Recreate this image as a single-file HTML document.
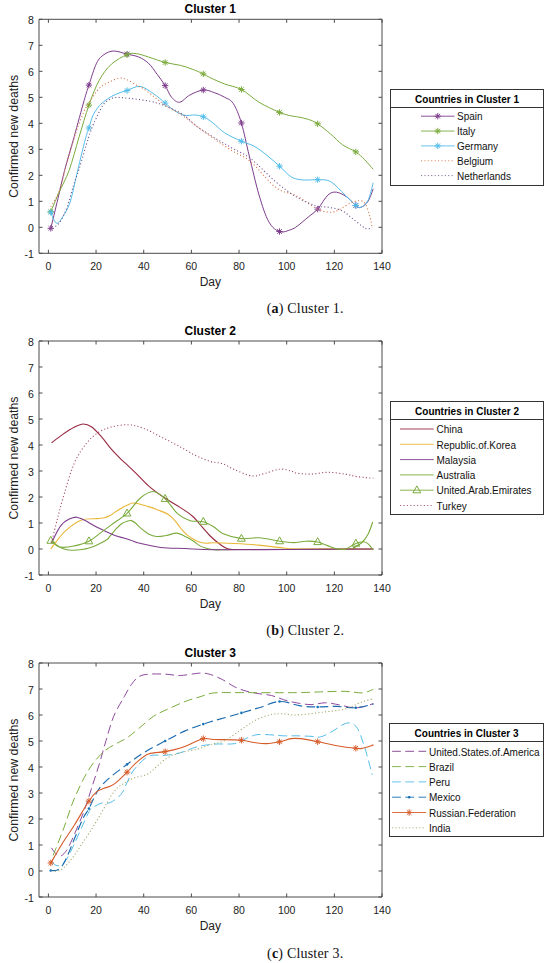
<!DOCTYPE html>
<html><head><meta charset="utf-8"><style>
html,body{margin:0;padding:0;background:#fff;}
body{width:550px;height:963px;overflow:hidden;}
svg{display:block;font-family:"Liberation Sans",sans-serif;}
.cap{font-family:"Liberation Serif",serif;}
</style></head><body>
<svg width="550" height="963" viewBox="0 0 550 963">
<rect width="550" height="963" fill="#fff"/>
<text x="210.3" y="13.0" font-size="12" font-weight="bold" text-anchor="middle" fill="#000">Cluster 1</text>
<path d="M39.0,19.3H382.0V253.3H39.0Z" fill="none" stroke="#4a4a4a" stroke-width="1"/>
<path d="M39.0,253.30h3.5M382.0,253.30h-3.5M39.0,227.30h3.5M382.0,227.30h-3.5M39.0,201.30h3.5M382.0,201.30h-3.5M39.0,175.30h3.5M382.0,175.30h-3.5M39.0,149.30h3.5M382.0,149.30h-3.5M39.0,123.30h3.5M382.0,123.30h-3.5M39.0,97.30h3.5M382.0,97.30h-3.5M39.0,71.30h3.5M382.0,71.30h-3.5M39.0,45.30h3.5M382.0,45.30h-3.5M39.0,19.30h3.5M382.0,19.30h-3.5M48.40,253.3v-3.5M48.40,19.3v3.5M96.06,253.3v-3.5M96.06,19.3v3.5M143.72,253.3v-3.5M143.72,19.3v3.5M191.38,253.3v-3.5M191.38,19.3v3.5M239.04,253.3v-3.5M239.04,19.3v3.5M286.70,253.3v-3.5M286.70,19.3v3.5M334.36,253.3v-3.5M334.36,19.3v3.5M382.02,253.3v-3.5M382.02,19.3v3.5" stroke="#4a4a4a" stroke-width="1" fill="none"/>
<text x="33.9" y="258.20" font-size="10.5" text-anchor="end" fill="#222">-1</text>
<text x="33.9" y="232.20" font-size="10.5" text-anchor="end" fill="#222">0</text>
<text x="33.9" y="206.20" font-size="10.5" text-anchor="end" fill="#222">1</text>
<text x="33.9" y="180.20" font-size="10.5" text-anchor="end" fill="#222">2</text>
<text x="33.9" y="154.20" font-size="10.5" text-anchor="end" fill="#222">3</text>
<text x="33.9" y="128.20" font-size="10.5" text-anchor="end" fill="#222">4</text>
<text x="33.9" y="102.20" font-size="10.5" text-anchor="end" fill="#222">5</text>
<text x="33.9" y="76.20" font-size="10.5" text-anchor="end" fill="#222">6</text>
<text x="33.9" y="50.20" font-size="10.5" text-anchor="end" fill="#222">7</text>
<text x="33.9" y="24.20" font-size="10.5" text-anchor="end" fill="#222">8</text>
<text x="48.40" y="270.10" font-size="10.5" text-anchor="middle" fill="#222">0</text>
<text x="96.06" y="270.10" font-size="10.5" text-anchor="middle" fill="#222">20</text>
<text x="143.72" y="270.10" font-size="10.5" text-anchor="middle" fill="#222">40</text>
<text x="191.38" y="270.10" font-size="10.5" text-anchor="middle" fill="#222">60</text>
<text x="239.04" y="270.10" font-size="10.5" text-anchor="middle" fill="#222">80</text>
<text x="286.70" y="270.10" font-size="10.5" text-anchor="middle" fill="#222">100</text>
<text x="334.36" y="270.10" font-size="10.5" text-anchor="middle" fill="#222">120</text>
<text x="382.02" y="270.10" font-size="10.5" text-anchor="middle" fill="#222">140</text>
<text x="210.3" y="285.90" font-size="12" text-anchor="middle" fill="#222">Day</text>
<text transform="translate(18,136.30) rotate(-90)" x="0" y="0" font-size="12.3" text-anchor="middle" fill="#222">Confirmed new deaths</text>
<path d="M50.78,228.34C51.97,223.40 55.63,208.36 57.93,198.70C60.24,189.04 61.90,180.67 64.60,170.36C67.31,160.05 70.88,148.48 74.14,136.82C77.39,125.16 81.68,109.04 84.14,100.42C86.61,91.80 86.85,91.28 88.91,85.08C90.98,78.88 94.03,68.31 96.54,63.24C99.04,58.17 101.06,56.70 103.92,54.66C106.78,52.62 109.84,51.11 113.69,51.02C117.55,50.93 122.87,53.14 127.04,54.14C131.21,55.14 135.14,55.48 138.72,57.00C142.29,58.52 145.43,60.38 148.49,63.24C151.54,66.10 154.28,70.43 157.06,74.16C159.84,77.89 162.74,81.74 165.17,85.60C167.59,89.46 169.18,94.53 171.60,97.30C174.02,100.07 176.65,102.63 179.70,102.24C182.76,101.85 186.02,97.00 189.95,94.96C193.88,92.92 199.24,90.41 203.30,90.02C207.35,89.63 210.68,91.41 214.26,92.62C217.83,93.83 221.56,95.48 224.74,97.30C227.92,99.12 230.54,99.25 233.32,103.54C236.10,107.83 238.76,114.29 241.42,123.04C244.08,131.79 246.35,144.06 249.29,156.06C252.23,168.06 255.80,184.10 259.06,195.06C262.31,206.02 265.37,215.73 268.83,221.84C272.28,227.95 276.14,230.42 279.79,231.72C283.44,233.02 287.81,230.59 290.75,229.64C293.69,228.69 294.48,228.12 297.42,226.00C300.36,223.88 305.01,219.72 308.39,216.90C311.76,214.08 314.42,212.74 317.68,209.10C320.94,205.46 324.79,197.88 327.93,195.06C331.06,192.24 333.25,191.81 336.50,192.20C339.76,192.59 344.29,195.19 347.47,197.40C350.64,199.61 353.30,203.81 355.57,205.46C357.83,207.11 358.94,208.02 361.05,207.28C363.15,206.54 366.17,204.12 368.20,201.04C370.22,197.96 372.37,190.86 373.20,188.82" fill="none" stroke="#7E3C8C" stroke-width="1.0" stroke-linecap="butt" stroke-linejoin="round"/>
<path d="M47.58,228.34L53.98,228.34M48.52,226.08L53.05,230.60M50.78,225.14L50.78,231.54M53.05,226.08L48.52,230.60M85.71,85.08L92.11,85.08M86.65,82.82L91.17,87.34M88.91,81.88L88.91,88.28M91.17,82.82L86.65,87.34M123.84,54.14L130.24,54.14M124.78,51.88L129.30,56.40M127.04,50.94L127.04,57.34M129.30,51.88L124.78,56.40M161.97,85.60L168.37,85.60M162.90,83.34L167.43,87.86M165.17,82.40L165.17,88.80M167.43,83.34L162.90,87.86M200.10,90.02L206.50,90.02M201.03,87.76L205.56,92.28M203.30,86.82L203.30,93.22M205.56,87.76L201.03,92.28M238.22,123.04L244.62,123.04M239.16,120.78L243.69,125.30M241.42,119.84L241.42,126.24M243.69,120.78L239.16,125.30M276.35,231.51L282.75,231.51M277.29,229.24L281.81,233.77M279.55,228.31L279.55,234.71M281.81,229.24L277.29,233.77M314.48,209.10L320.88,209.10M315.42,206.84L319.94,211.36M317.68,205.90L317.68,212.30M319.94,206.84L315.42,211.36M352.61,205.54L359.01,205.54M353.54,203.28L358.07,207.80M355.81,202.34L355.81,208.74M358.07,203.28L353.54,207.80" fill="none" stroke="#7E3C8C" stroke-width="1.0"/>
<path d="M50.78,211.70C52.17,208.45 56.07,199.09 59.12,192.20C62.18,185.31 65.80,179.59 69.13,170.36C72.47,161.13 75.84,147.70 79.14,136.82C82.44,125.94 85.57,114.50 88.91,105.10C92.25,95.70 95.42,87.20 99.16,80.40C102.89,73.60 106.66,68.57 111.31,64.28C115.96,59.99 122.87,56.44 127.04,54.66C131.21,52.88 132.76,53.23 136.33,53.62C139.91,54.01 143.68,55.53 148.49,57.00C153.29,58.47 159.88,61.07 165.17,62.46C170.45,63.85 175.65,64.19 180.18,65.32C184.71,66.45 188.48,67.79 192.33,69.22C196.19,70.65 200.28,72.47 203.30,73.90C206.31,75.33 206.87,76.11 210.44,77.80C214.02,79.49 219.58,82.09 224.74,84.04C229.91,85.99 235.70,86.47 241.42,89.50C247.14,92.53 252.70,98.43 259.06,102.24C265.41,106.05 274.27,110.13 279.55,112.38C284.83,114.63 287.57,114.98 290.75,115.76C293.93,116.54 295.68,116.45 298.62,117.06C301.55,117.67 305.21,118.27 308.39,119.40C311.56,120.53 313.99,121.39 317.68,123.82C321.37,126.25 326.38,130.45 330.55,133.96C334.72,137.47 338.49,141.89 342.70,144.88C346.91,147.87 352.15,149.43 355.81,151.90C359.46,154.37 361.72,156.80 364.62,159.70C367.52,162.60 371.77,167.72 373.20,169.32" fill="none" stroke="#7AAB3C" stroke-width="1.0" stroke-linecap="butt" stroke-linejoin="round"/>
<path d="M47.58,211.70L53.98,211.70M48.52,209.44L53.05,213.96M50.78,208.50L50.78,214.90M53.05,209.44L48.52,213.96M85.71,105.10L92.11,105.10M86.65,102.84L91.17,107.36M88.91,101.90L88.91,108.30M91.17,102.84L86.65,107.36M123.84,54.66L130.24,54.66M124.78,52.40L129.30,56.92M127.04,51.46L127.04,57.86M129.30,52.40L124.78,56.92M161.97,62.46L168.37,62.46M162.90,60.20L167.43,64.72M165.17,59.26L165.17,65.66M167.43,60.20L162.90,64.72M200.10,73.90L206.50,73.90M201.03,71.64L205.56,76.16M203.30,70.70L203.30,77.10M205.56,71.64L201.03,76.16M238.22,89.50L244.62,89.50M239.16,87.24L243.69,91.76M241.42,86.30L241.42,92.70M243.69,87.24L239.16,91.76M276.35,112.38L282.75,112.38M277.29,110.12L281.81,114.64M279.55,109.18L279.55,115.58M281.81,110.12L277.29,114.64M314.48,123.82L320.88,123.82M315.42,121.56L319.94,126.08M317.68,120.62L317.68,127.02M319.94,121.56L315.42,126.08M352.61,151.90L359.01,151.90M353.54,149.64L358.07,154.16M355.81,148.70L355.81,155.10M358.07,149.64L353.54,154.16" fill="none" stroke="#7AAB3C" stroke-width="1.0"/>
<path d="M50.78,212.22C51.38,213.65 53.17,218.98 54.36,220.80C55.55,222.62 56.54,223.79 57.93,223.14C59.32,222.49 60.67,220.41 62.70,216.90C64.72,213.39 67.58,209.84 70.09,202.08C72.59,194.32 75.21,180.72 77.71,170.36C80.21,160.00 83.23,147.00 85.10,139.94C86.96,132.88 87.64,131.97 88.91,127.98C90.18,123.99 91.17,119.49 92.72,116.02C94.27,112.55 96.38,109.56 98.20,107.18C100.03,104.80 101.50,103.50 103.69,101.72C105.87,99.94 108.57,98.04 111.31,96.52C114.05,95.00 117.51,93.62 120.13,92.62C122.75,91.62 123.74,91.58 127.04,90.54C130.34,89.50 135.50,85.86 139.91,86.38C144.32,86.90 149.28,90.89 153.49,93.66C157.70,96.43 161.95,100.38 165.17,103.02C168.38,105.66 169.65,107.48 172.79,109.52C175.93,111.56 180.30,114.33 183.99,115.24C187.69,116.15 191.74,114.72 194.95,114.98C198.17,115.24 200.32,115.50 203.30,116.80C206.27,118.10 209.25,120.09 212.83,122.78C216.40,125.47 219.98,129.84 224.74,132.92C229.51,136.00 236.54,139.03 241.42,141.24C246.31,143.45 249.92,143.93 254.05,146.18C258.18,148.43 261.96,151.42 266.21,154.76C270.46,158.10 275.46,162.56 279.55,166.20C283.64,169.84 287.30,174.35 290.75,176.60C294.21,178.85 297.34,179.16 300.28,179.72C303.22,180.28 305.49,179.98 308.39,179.98C311.28,179.98 313.99,179.46 317.68,179.72C321.37,179.98 325.98,178.98 330.55,181.54C335.11,184.10 340.87,191.07 345.08,195.06C349.29,199.05 353.15,203.42 355.81,205.46C358.47,207.50 358.98,208.19 361.05,207.28C363.11,206.37 366.17,204.07 368.20,200.00C370.22,195.93 372.37,185.70 373.20,182.84" fill="none" stroke="#55BDEA" stroke-width="1.0" stroke-linecap="butt" stroke-linejoin="round"/>
<path d="M47.58,212.22L53.98,212.22M48.52,209.96L53.05,214.48M50.78,209.02L50.78,215.42M53.05,209.96L48.52,214.48M85.71,127.98L92.11,127.98M86.65,125.72L91.17,130.24M88.91,124.78L88.91,131.18M91.17,125.72L86.65,130.24M123.84,90.54L130.24,90.54M124.78,88.28L129.30,92.80M127.04,87.34L127.04,93.74M129.30,88.28L124.78,92.80M161.97,103.02L168.37,103.02M162.90,100.76L167.43,105.28M165.17,99.82L165.17,106.22M167.43,100.76L162.90,105.28M200.10,116.80L206.50,116.80M201.03,114.54L205.56,119.06M203.30,113.60L203.30,120.00M205.56,114.54L201.03,119.06M238.22,141.24L244.62,141.24M239.16,138.98L243.69,143.50M241.42,138.04L241.42,144.44M243.69,138.98L239.16,143.50M276.35,166.20L282.75,166.20M277.29,163.94L281.81,168.46M279.55,163.00L279.55,169.40M281.81,163.94L277.29,168.46M314.48,179.72L320.88,179.72M315.42,177.46L319.94,181.98M317.68,176.52L317.68,182.92M319.94,177.46L315.42,181.98M352.61,205.46L359.01,205.46M353.54,203.20L358.07,207.72M355.81,202.26L355.81,208.66M358.07,203.20L353.54,207.72" fill="none" stroke="#55BDEA" stroke-width="1.0"/>
<path d="M50.78,206.76C52.17,204.16 56.34,198.79 59.12,191.16C61.90,183.53 65.12,169.28 67.46,161.00C69.81,152.72 71.52,147.00 73.18,141.50C74.85,136.00 75.76,132.79 77.47,127.98C79.18,123.17 81.88,116.28 83.43,112.64C84.98,109.00 85.38,108.48 86.77,106.14C88.16,103.80 90.22,100.94 91.77,98.60C93.32,96.26 94.43,94.14 96.06,92.10C97.69,90.06 99.71,87.85 101.54,86.38C103.37,84.91 105.19,84.26 107.02,83.26C108.85,82.26 110.36,81.27 112.50,80.40C114.65,79.53 117.47,78.19 119.89,78.06C122.31,77.93 124.30,78.45 127.04,79.62C129.78,80.79 133.75,83.69 136.33,85.08C138.91,86.47 139.67,86.08 142.53,87.94C145.39,89.80 149.72,93.40 153.49,96.26C157.26,99.12 160.28,101.85 165.17,105.10C170.05,108.35 177.44,112.16 182.80,115.76C188.16,119.36 192.09,122.82 197.34,126.68C202.58,130.54 208.50,134.91 214.26,138.90C220.02,142.89 225.77,146.74 231.89,150.60C238.01,154.46 243.65,155.89 250.96,162.04C258.26,168.19 268.19,181.93 275.74,187.52C283.28,193.11 289.56,192.16 296.23,195.58C302.90,199.00 310.33,205.29 315.77,208.06C321.21,210.83 325.03,211.92 328.88,212.22C332.73,212.52 335.31,211.40 338.89,209.88C342.46,208.36 347.07,204.64 350.33,203.12C353.58,201.60 356.01,200.78 358.43,200.78C360.85,200.78 362.96,200.52 364.86,203.12C366.77,205.72 368.64,212.26 369.87,216.38C371.10,220.50 371.85,225.91 372.25,227.82" fill="none" stroke="#D9774A" stroke-width="1.1" stroke-dasharray="1.1 2.3" stroke-linecap="butt" stroke-linejoin="round"/>
<path d="M51.97,226.78C52.73,226.61 54.91,226.95 56.50,225.74C58.09,224.53 59.72,222.66 61.51,219.50C63.29,216.34 65.24,212.39 67.23,206.76C69.21,201.13 71.44,192.03 73.42,185.70C75.41,179.37 76.64,176.77 79.14,168.80C81.64,160.83 86.17,145.01 88.43,137.86C90.70,130.71 91.45,129.11 92.72,125.90C93.99,122.69 94.95,121.00 96.06,118.62C97.17,116.24 98.13,114.03 99.40,111.60C100.67,109.17 102.06,106.05 103.69,104.06C105.31,102.07 107.34,100.72 109.17,99.64C110.99,98.56 112.15,97.86 114.65,97.56C117.15,97.26 118.54,97.26 124.18,97.82C129.82,98.38 141.65,99.60 148.49,100.94C155.32,102.28 159.45,103.63 165.17,105.88C170.89,108.13 177.44,110.99 182.80,114.46C188.16,117.93 192.09,122.82 197.34,126.68C202.58,130.54 208.50,134.05 214.26,137.60C220.02,141.15 225.77,144.45 231.89,148.00C238.01,151.55 243.65,153.29 250.96,158.92C258.26,164.55 268.19,175.47 275.74,181.80C283.28,188.13 289.56,192.89 296.23,196.88C302.90,200.87 310.33,203.99 315.77,205.72C321.21,207.45 324.51,206.46 328.88,207.28C333.25,208.10 338.17,208.88 341.99,210.66C345.80,212.44 348.46,215.38 351.76,217.94C355.05,220.50 359.26,224.18 361.76,226.00C364.27,227.82 365.02,228.56 366.77,228.86C368.52,229.16 371.34,227.99 372.25,227.82" fill="none" stroke="#735590" stroke-width="1.1" stroke-dasharray="1.1 2.3" stroke-linecap="butt" stroke-linejoin="round"/>
<rect x="390.5" y="89.5" width="153.0" height="96.0" fill="#fff" stroke="#333" stroke-width="1"/>
<path d="M390.5,107.5H543.5" stroke="#333" stroke-width="1"/>
<text x="467.00" y="102.8" font-size="10" font-weight="bold" text-anchor="middle" fill="#000">Countries in Cluster 1</text>
<path d="M421,116.2H454.5" stroke="#7E3C8C" stroke-width="0.9"/>
<path d="M434.55,116.20L440.95,116.20M435.49,113.94L440.01,118.46M437.75,113.00L437.75,119.40M440.01,113.94L435.49,118.46" stroke="#7E3C8C" stroke-width="1" fill="none"/>
<text x="457" y="120.40" font-size="10" fill="#111">Spain</text>
<path d="M421,131.05H454.5" stroke="#7AAB3C" stroke-width="0.9"/>
<path d="M434.55,131.05L440.95,131.05M435.49,128.79L440.01,133.31M437.75,127.85L437.75,134.25M440.01,128.79L435.49,133.31" stroke="#7AAB3C" stroke-width="1" fill="none"/>
<text x="457" y="135.25" font-size="10" fill="#111">Italy</text>
<path d="M421,145.9H454.5" stroke="#55BDEA" stroke-width="0.9"/>
<path d="M434.55,145.90L440.95,145.90M435.49,143.64L440.01,148.16M437.75,142.70L437.75,149.10M440.01,143.64L435.49,148.16" stroke="#55BDEA" stroke-width="1" fill="none"/>
<text x="457" y="150.10" font-size="10" fill="#111">Germany</text>
<path d="M421,160.75H454.5" stroke="#D9774A" stroke-width="0.9" stroke-dasharray="1.1 2.3"/>
<text x="457" y="164.95" font-size="10" fill="#111">Belgium</text>
<path d="M421,175.6H454.5" stroke="#735590" stroke-width="0.9" stroke-dasharray="1.1 2.3"/>
<text x="457" y="179.80" font-size="10" fill="#111">Netherlands</text>
<text class="cap" x="305.2" y="313" font-size="14" letter-spacing="0.2" text-anchor="middle" fill="#111">(<tspan font-weight="bold">a</tspan>) Cluster 1.</text>
<text x="210.3" y="334.7" font-size="12" font-weight="bold" text-anchor="middle" fill="#000">Cluster 2</text>
<path d="M39.0,341.0H382.0V575.0H39.0Z" fill="none" stroke="#4a4a4a" stroke-width="1"/>
<path d="M39.0,575.00h3.5M382.0,575.00h-3.5M39.0,549.00h3.5M382.0,549.00h-3.5M39.0,523.00h3.5M382.0,523.00h-3.5M39.0,497.00h3.5M382.0,497.00h-3.5M39.0,471.00h3.5M382.0,471.00h-3.5M39.0,445.00h3.5M382.0,445.00h-3.5M39.0,419.00h3.5M382.0,419.00h-3.5M39.0,393.00h3.5M382.0,393.00h-3.5M39.0,367.00h3.5M382.0,367.00h-3.5M39.0,341.00h3.5M382.0,341.00h-3.5M48.40,575.0v-3.5M48.40,341.0v3.5M96.06,575.0v-3.5M96.06,341.0v3.5M143.72,575.0v-3.5M143.72,341.0v3.5M191.38,575.0v-3.5M191.38,341.0v3.5M239.04,575.0v-3.5M239.04,341.0v3.5M286.70,575.0v-3.5M286.70,341.0v3.5M334.36,575.0v-3.5M334.36,341.0v3.5M382.02,575.0v-3.5M382.02,341.0v3.5" stroke="#4a4a4a" stroke-width="1" fill="none"/>
<text x="33.9" y="579.90" font-size="10.5" text-anchor="end" fill="#222">-1</text>
<text x="33.9" y="553.90" font-size="10.5" text-anchor="end" fill="#222">0</text>
<text x="33.9" y="527.90" font-size="10.5" text-anchor="end" fill="#222">1</text>
<text x="33.9" y="501.90" font-size="10.5" text-anchor="end" fill="#222">2</text>
<text x="33.9" y="475.90" font-size="10.5" text-anchor="end" fill="#222">3</text>
<text x="33.9" y="449.90" font-size="10.5" text-anchor="end" fill="#222">4</text>
<text x="33.9" y="423.90" font-size="10.5" text-anchor="end" fill="#222">5</text>
<text x="33.9" y="397.90" font-size="10.5" text-anchor="end" fill="#222">6</text>
<text x="33.9" y="371.90" font-size="10.5" text-anchor="end" fill="#222">7</text>
<text x="33.9" y="345.90" font-size="10.5" text-anchor="end" fill="#222">8</text>
<text x="48.40" y="591.80" font-size="10.5" text-anchor="middle" fill="#222">0</text>
<text x="96.06" y="591.80" font-size="10.5" text-anchor="middle" fill="#222">20</text>
<text x="143.72" y="591.80" font-size="10.5" text-anchor="middle" fill="#222">40</text>
<text x="191.38" y="591.80" font-size="10.5" text-anchor="middle" fill="#222">60</text>
<text x="239.04" y="591.80" font-size="10.5" text-anchor="middle" fill="#222">80</text>
<text x="286.70" y="591.80" font-size="10.5" text-anchor="middle" fill="#222">100</text>
<text x="334.36" y="591.80" font-size="10.5" text-anchor="middle" fill="#222">120</text>
<text x="382.02" y="591.80" font-size="10.5" text-anchor="middle" fill="#222">140</text>
<text x="210.3" y="607.60" font-size="12" text-anchor="middle" fill="#222">Day</text>
<text transform="translate(18,458.00) rotate(-90)" x="0" y="0" font-size="12.3" text-anchor="middle" fill="#222">Confirmed new deaths</text>
<path d="M51.97,541.72C52.97,542.50 55.95,545.19 57.93,546.40C59.92,547.61 61.43,548.35 63.89,549.00C66.35,549.65 68.50,550.47 72.71,550.30C76.92,550.13 83.67,549.61 89.15,547.96C94.63,546.31 102.02,542.50 105.59,540.42C109.17,538.34 108.81,537.43 110.60,535.48C112.38,533.53 114.45,530.71 116.32,528.72C118.18,526.73 120.01,524.78 121.80,523.52C123.58,522.26 125.45,521.66 127.04,521.18C128.63,520.70 129.94,520.36 131.33,520.66C132.72,520.96 133.91,521.83 135.38,523.00C136.85,524.17 137.96,525.86 140.15,527.68C142.33,529.50 145.75,532.45 148.49,533.92C151.23,535.39 153.61,536.26 156.59,536.52C159.57,536.78 163.06,536.04 166.36,535.48C169.65,534.92 173.39,533.05 176.37,533.14C179.35,533.23 181.49,534.74 184.23,536.00C186.97,537.26 190.19,539.03 192.81,540.68C195.43,542.33 197.81,544.67 199.96,545.88C202.10,547.09 203.29,547.31 205.68,547.96C208.06,548.61 208.70,549.52 214.26,549.78C219.82,550.04 217.16,549.65 239.04,549.52C260.92,549.39 326.42,549.39 345.56,549.00C364.70,548.61 351.16,548.26 353.90,547.18C356.64,546.10 359.58,544.80 362.00,542.50C364.43,540.20 366.65,536.82 368.44,533.40C370.22,529.98 372.01,523.87 372.73,521.96" fill="none" stroke="#7AAB3C" stroke-width="1.1" stroke-linecap="butt" stroke-linejoin="round"/>
<path d="M51.50,442.92C53.32,441.53 58.61,437.24 62.46,434.60C66.31,431.96 71.16,428.84 74.61,427.06C78.07,425.28 80.33,423.94 83.19,423.94C86.05,423.94 88.71,424.89 91.77,427.06C94.83,429.23 98.28,433.26 101.54,436.94C104.80,440.62 108.05,445.43 111.31,449.16C114.57,452.89 118.26,456.53 121.08,459.30C123.90,462.07 125.69,463.42 128.23,465.80C130.77,468.18 132.96,470.26 136.33,473.60C139.71,476.94 143.80,481.79 148.49,485.82C153.17,489.85 159.13,494.14 164.45,497.78C169.77,501.42 175.73,504.58 180.42,507.66C185.10,510.74 188.92,512.99 192.57,516.24C196.23,519.49 199.40,523.87 202.34,527.16C205.28,530.45 207.27,533.14 210.21,536.00C213.14,538.86 216.96,542.15 219.98,544.32C222.99,546.49 225.14,548.13 228.32,549.00C231.49,549.87 229.31,549.43 239.04,549.52C248.77,549.61 264.30,549.61 286.70,549.52C309.10,549.43 358.98,549.09 373.44,549.00" fill="none" stroke="#96283F" stroke-width="1.1" stroke-linecap="butt" stroke-linejoin="round"/>
<path d="M50.78,549.00C53.09,546.10 59.56,536.39 64.60,531.58C69.65,526.77 75.57,522.31 81.05,520.14C86.53,517.97 93.60,518.97 97.49,518.58C101.38,518.19 102.22,518.36 104.40,517.80C106.58,517.24 108.61,516.28 110.60,515.20C112.58,514.12 114.45,512.51 116.32,511.30C118.18,510.09 120.01,508.92 121.80,507.92C123.58,506.92 125.01,506.14 127.04,505.32C129.06,504.50 130.38,502.76 133.95,502.98C137.52,503.20 144.47,505.45 148.49,506.62C152.50,507.79 154.72,508.70 158.02,510.00C161.31,511.30 165.48,512.69 168.26,514.42C171.05,516.15 172.51,517.97 174.70,520.40C176.88,522.83 179.39,526.60 181.37,528.98C183.36,531.36 184.71,533.05 186.61,534.70C188.52,536.35 190.82,537.69 192.81,538.86C194.80,540.03 196.38,540.98 198.53,541.72C200.67,542.46 203.29,543.11 205.68,543.28C208.06,543.45 208.06,542.72 212.83,542.76C217.59,542.80 226.73,543.15 234.27,543.54C241.82,543.93 249.88,544.36 258.10,545.10C266.33,545.84 276.53,547.31 283.60,547.96C290.67,548.61 285.55,548.83 300.52,549.00C315.49,549.17 361.29,549.00 373.44,549.00" fill="none" stroke="#EAB738" stroke-width="1.1" stroke-linecap="butt" stroke-linejoin="round"/>
<path d="M52.21,541.46C53.72,538.73 57.85,529.02 61.27,525.08C64.68,521.14 69.41,518.88 72.71,517.80C76.00,516.72 76.92,516.98 81.05,518.58C85.18,520.18 92.05,524.69 97.49,527.42C102.93,530.15 108.25,532.88 113.69,534.96C119.14,537.04 125.97,538.56 130.14,539.90C134.31,541.24 133.59,541.76 138.72,543.02C143.84,544.28 153.13,546.53 160.88,547.44C168.62,548.35 176.29,548.09 185.18,548.48C194.08,548.87 197.34,549.61 214.26,549.78C231.18,549.95 260.17,549.65 286.70,549.52C313.23,549.39 358.98,549.09 373.44,549.00" fill="none" stroke="#7E3C8C" stroke-width="1.1" stroke-linecap="butt" stroke-linejoin="round"/>
<path d="M50.78,540.68C52.53,541.76 57.30,546.31 61.27,547.18C65.24,548.05 70.01,546.88 74.61,545.88C79.22,544.88 84.42,543.50 88.91,541.20C93.40,538.90 97.81,534.83 101.54,532.10C105.27,529.37 107.06,527.94 111.31,524.82C115.56,521.70 122.19,517.84 127.04,513.38C131.88,508.92 136.01,501.68 140.38,498.04C144.75,494.40 149.12,491.41 153.25,491.54C157.38,491.67 161.08,495.09 165.17,498.82C169.26,502.55 173.63,510.26 177.80,513.90C181.97,517.54 185.94,519.36 190.19,520.66C194.44,521.96 199.28,520.62 203.30,521.70C207.31,522.78 211.04,525.21 214.26,527.16C217.47,529.11 218.07,531.49 222.60,533.40C227.12,535.31 235.35,537.86 241.42,538.60C247.50,539.34 252.66,537.39 259.06,537.82C265.45,538.25 274.47,540.42 279.79,541.20C285.11,541.98 288.25,542.28 290.99,542.50C293.73,542.72 293.69,542.72 296.23,542.50C298.77,542.28 302.67,541.29 306.24,541.20C309.82,541.11 314.14,541.24 317.68,541.98C321.21,542.72 324.15,544.45 327.45,545.62C330.75,546.79 334.44,548.44 337.46,549.00C340.48,549.56 342.42,549.95 345.56,549.00C348.70,548.05 353.27,544.49 356.28,543.28C359.30,542.07 361.65,541.59 363.67,541.72C365.70,541.85 366.93,542.76 368.44,544.06C369.95,545.36 372.01,548.61 372.73,549.52" fill="none" stroke="#7AAB3C" stroke-width="1.1" stroke-linecap="butt" stroke-linejoin="round"/>
<path d="M50.78,536.38L54.68,543.28L46.88,543.28ZM88.91,536.90L92.81,543.80L85.01,543.80ZM127.04,509.08L130.94,515.98L123.14,515.98ZM165.17,494.52L169.07,501.42L161.27,501.42ZM203.30,517.40L207.20,524.30L199.40,524.30ZM241.42,534.30L245.32,541.20L237.52,541.20ZM279.55,536.86L283.45,543.76L275.65,543.76ZM317.68,537.68L321.58,544.58L313.78,544.58ZM355.81,539.23L359.71,546.13L351.91,546.13Z" fill="none" stroke="#7AAB3C" stroke-width="1.0"/>
<path d="M51.50,543.02C52.49,538.95 55.23,527.12 57.46,518.58C59.68,510.04 61.98,501.16 64.84,491.80C67.70,482.44 70.96,470.57 74.61,462.42C78.27,454.27 82.68,447.99 86.77,442.92C90.86,437.85 95.07,434.64 99.16,432.00C103.25,429.36 106.47,428.27 111.31,427.06C116.16,425.85 122.83,424.50 128.23,424.72C133.63,424.94 138.28,426.32 143.72,428.36C149.16,430.40 155.20,434.08 160.88,436.94C166.56,439.80 172.12,442.49 177.80,445.52C183.48,448.55 189.55,452.50 194.95,455.14C200.36,457.78 205.60,459.95 210.21,461.38C214.81,462.81 218.51,462.33 222.60,463.72C226.69,465.11 229.87,467.66 234.75,469.70C239.64,471.74 247.02,475.29 251.91,475.94C256.79,476.59 259.41,474.73 264.06,473.60C268.71,472.47 275.30,469.61 279.79,469.18C284.28,468.75 288.25,470.35 290.99,471.00C293.73,471.65 292.90,472.56 296.23,473.08C299.57,473.60 305.68,474.25 311.01,474.12C316.33,473.99 322.44,472.30 328.16,472.30C333.88,472.30 340.44,473.38 345.32,474.12C350.21,474.86 352.79,476.03 357.48,476.72C362.16,477.41 370.78,478.02 373.44,478.28" fill="none" stroke="#A04860" stroke-width="1.1" stroke-dasharray="1.1 2.3" stroke-linecap="butt" stroke-linejoin="round"/>
<rect x="390.5" y="401.5" width="153.0" height="113.0" fill="#fff" stroke="#333" stroke-width="1"/>
<path d="M390.5,419.5H543.5" stroke="#333" stroke-width="1"/>
<text x="467.00" y="414.8" font-size="10" font-weight="bold" text-anchor="middle" fill="#000">Countries in Cluster 2</text>
<path d="M400,429.0H433.7" stroke="#96283F" stroke-width="0.9"/>
<text x="436.5" y="433.20" font-size="10" fill="#111">China</text>
<path d="M400,444.3H433.7" stroke="#EAB738" stroke-width="0.9"/>
<text x="436.5" y="448.50" font-size="10" fill="#111">Republic.of.Korea</text>
<path d="M400,459.6H433.7" stroke="#7E3C8C" stroke-width="0.9"/>
<text x="436.5" y="463.80" font-size="10" fill="#111">Malaysia</text>
<path d="M400,474.9H433.7" stroke="#7AAB3C" stroke-width="0.9"/>
<text x="436.5" y="479.10" font-size="10" fill="#111">Australia</text>
<path d="M400,490.2H433.7" stroke="#7AAB3C" stroke-width="0.9"/>
<path d="M416.85,485.90L420.75,492.80L412.95,492.80Z" stroke="#7AAB3C" stroke-width="1" fill="none"/>
<text x="436.5" y="494.40" font-size="10" fill="#111">United.Arab.Emirates</text>
<path d="M400,505.5H433.7" stroke="#A04860" stroke-width="0.9" stroke-dasharray="1.1 2.3"/>
<text x="436.5" y="509.70" font-size="10" fill="#111">Turkey</text>
<text class="cap" x="305.2" y="635" font-size="14" letter-spacing="0.2" text-anchor="middle" fill="#111">(<tspan font-weight="bold">b</tspan>) Cluster 2.</text>
<text x="210.3" y="656.7" font-size="12" font-weight="bold" text-anchor="middle" fill="#000">Cluster 3</text>
<path d="M39.0,663.0H382.0V897.0H39.0Z" fill="none" stroke="#4a4a4a" stroke-width="1"/>
<path d="M39.0,897.00h3.5M382.0,897.00h-3.5M39.0,871.00h3.5M382.0,871.00h-3.5M39.0,845.00h3.5M382.0,845.00h-3.5M39.0,819.00h3.5M382.0,819.00h-3.5M39.0,793.00h3.5M382.0,793.00h-3.5M39.0,767.00h3.5M382.0,767.00h-3.5M39.0,741.00h3.5M382.0,741.00h-3.5M39.0,715.00h3.5M382.0,715.00h-3.5M39.0,689.00h3.5M382.0,689.00h-3.5M39.0,663.00h3.5M382.0,663.00h-3.5M48.40,897.0v-3.5M48.40,663.0v3.5M96.06,897.0v-3.5M96.06,663.0v3.5M143.72,897.0v-3.5M143.72,663.0v3.5M191.38,897.0v-3.5M191.38,663.0v3.5M239.04,897.0v-3.5M239.04,663.0v3.5M286.70,897.0v-3.5M286.70,663.0v3.5M334.36,897.0v-3.5M334.36,663.0v3.5M382.02,897.0v-3.5M382.02,663.0v3.5" stroke="#4a4a4a" stroke-width="1" fill="none"/>
<text x="33.9" y="901.90" font-size="10.5" text-anchor="end" fill="#222">-1</text>
<text x="33.9" y="875.90" font-size="10.5" text-anchor="end" fill="#222">0</text>
<text x="33.9" y="849.90" font-size="10.5" text-anchor="end" fill="#222">1</text>
<text x="33.9" y="823.90" font-size="10.5" text-anchor="end" fill="#222">2</text>
<text x="33.9" y="797.90" font-size="10.5" text-anchor="end" fill="#222">3</text>
<text x="33.9" y="771.90" font-size="10.5" text-anchor="end" fill="#222">4</text>
<text x="33.9" y="745.90" font-size="10.5" text-anchor="end" fill="#222">5</text>
<text x="33.9" y="719.90" font-size="10.5" text-anchor="end" fill="#222">6</text>
<text x="33.9" y="693.90" font-size="10.5" text-anchor="end" fill="#222">7</text>
<text x="33.9" y="667.90" font-size="10.5" text-anchor="end" fill="#222">8</text>
<text x="48.40" y="913.80" font-size="10.5" text-anchor="middle" fill="#222">0</text>
<text x="96.06" y="913.80" font-size="10.5" text-anchor="middle" fill="#222">20</text>
<text x="143.72" y="913.80" font-size="10.5" text-anchor="middle" fill="#222">40</text>
<text x="191.38" y="913.80" font-size="10.5" text-anchor="middle" fill="#222">60</text>
<text x="239.04" y="913.80" font-size="10.5" text-anchor="middle" fill="#222">80</text>
<text x="286.70" y="913.80" font-size="10.5" text-anchor="middle" fill="#222">100</text>
<text x="334.36" y="913.80" font-size="10.5" text-anchor="middle" fill="#222">120</text>
<text x="382.02" y="913.80" font-size="10.5" text-anchor="middle" fill="#222">140</text>
<text x="210.3" y="929.60" font-size="12" text-anchor="middle" fill="#222">Day</text>
<text transform="translate(18,780.00) rotate(-90)" x="0" y="0" font-size="12.3" text-anchor="middle" fill="#222">Confirmed new deaths</text>
<path d="M51.50,847.86C52.17,848.77 53.96,851.98 55.55,853.32C57.14,854.66 59.04,856.66 61.03,855.92C63.02,855.18 65.28,852.41 67.46,848.90C69.65,845.39 71.32,841.32 74.14,834.86C76.96,828.40 81.48,817.92 84.38,810.16C87.28,802.40 89.11,795.82 91.53,788.32C93.96,780.82 96.50,773.15 98.92,765.18C101.34,757.21 103.61,748.63 106.07,740.48C108.53,732.33 110.68,723.58 113.69,716.30C116.71,709.02 121.24,702.09 124.18,696.80C127.12,691.51 128.91,687.92 131.33,684.58C133.75,681.24 135.86,678.51 138.72,676.78C141.58,675.05 144.00,674.61 148.49,674.18C152.97,673.75 160.32,673.96 165.64,674.18C170.97,674.40 174.70,675.65 180.42,675.48C186.14,675.31 194.99,673.31 199.96,673.14C204.92,672.97 206.43,673.36 210.21,674.44C213.98,675.52 218.51,677.56 222.60,679.64C226.69,681.72 230.70,684.97 234.75,686.92C238.80,688.87 242.85,690.21 246.90,691.34C250.95,692.47 254.97,692.99 259.06,693.68C263.15,694.37 267.36,694.50 271.45,695.50C275.54,696.50 279.47,698.45 283.60,699.66C287.73,700.87 291.66,701.96 296.23,702.78C300.80,703.60 306.08,704.60 311.01,704.60C315.93,704.60 320.90,702.69 325.78,702.78C330.67,702.87 335.83,704.30 340.32,705.12C344.81,705.94 349.02,707.42 352.71,707.72C356.40,708.02 359.02,707.63 362.48,706.94C365.93,706.25 371.61,704.12 373.44,703.56" fill="none" stroke="#8E4A9E" stroke-width="1.0" stroke-dasharray="8.8 4.4" stroke-linecap="butt" stroke-linejoin="round"/>
<path d="M53.17,855.40C54.95,850.81 60.39,837.24 63.89,827.84C67.38,818.44 70.01,808.64 74.14,798.98C78.27,789.32 83.83,777.66 88.67,769.86C93.52,762.06 98.36,756.69 103.21,752.18C108.05,747.67 113.77,745.20 117.75,742.82C121.72,740.44 123.54,740.26 127.04,737.88C130.53,735.50 134.31,732.12 138.72,728.52C143.12,724.92 148.61,719.55 153.49,716.30C158.38,713.05 162.74,711.49 168.03,709.02C173.31,706.55 179.86,703.52 185.18,701.48C190.51,699.44 195.11,698.23 199.96,696.80C204.80,695.37 207.74,693.59 214.26,692.90C220.77,692.21 225.38,692.68 239.04,692.64C252.70,692.60 282.61,692.77 296.23,692.64C309.85,692.51 312.60,692.08 320.78,691.86C328.96,691.64 338.37,691.17 345.32,691.34C352.27,691.51 357.79,693.25 362.48,692.90C367.17,692.55 371.61,689.87 373.44,689.26" fill="none" stroke="#7AAB3C" stroke-width="1.0" stroke-dasharray="8.8 4.4" stroke-linecap="butt" stroke-linejoin="round"/>
<path d="M51.50,861.90C52.57,862.55 55.59,866.02 57.93,865.80C60.28,865.58 63.02,863.85 65.56,860.60C68.10,857.35 70.64,851.50 73.18,846.30C75.73,841.10 78.15,835.21 80.81,829.40C83.47,823.59 87.00,815.19 89.15,811.46C91.29,807.73 91.65,808.43 93.68,807.04C95.70,805.65 98.56,803.88 101.30,803.14C104.04,802.40 106.82,804.09 110.12,802.62C113.42,801.15 118.26,797.64 121.08,794.30C123.90,790.96 124.89,786.67 127.04,782.60C129.18,778.53 130.38,774.24 133.95,769.86C137.52,765.48 143.20,758.77 148.49,756.34C153.77,753.91 160.32,755.91 165.64,755.30C170.97,754.69 175.14,754.13 180.42,752.70C185.70,751.27 191.70,748.15 197.34,746.72C202.98,745.29 208.02,744.64 214.26,744.12C220.49,743.60 229.31,744.60 234.75,743.60C240.19,742.60 242.85,739.66 246.90,738.14C250.95,736.62 252.94,734.89 259.06,734.50C265.17,734.11 277.41,735.58 283.60,735.80C289.80,736.02 291.66,735.71 296.23,735.80C300.80,735.89 306.92,736.15 311.01,736.32C315.10,736.49 317.08,737.75 320.78,736.84C324.47,735.93 329.47,732.90 333.17,730.86C336.86,728.82 340.12,725.92 342.94,724.62C345.76,723.32 347.67,722.41 350.09,723.06C352.51,723.71 355.01,724.36 357.48,728.52C359.94,732.68 362.40,740.31 364.86,748.02C367.32,755.73 371.02,770.34 372.25,774.80" fill="none" stroke="#55BDEA" stroke-width="1.0" stroke-dasharray="8.8 4.4" stroke-linecap="butt" stroke-linejoin="round"/>
<path d="M50.31,870.48C51.38,870.44 54.71,871.04 56.74,870.22C58.77,869.40 60.55,868.23 62.46,865.54C64.37,862.85 66.23,858.43 68.18,854.10C70.13,849.77 71.71,845.39 74.14,839.54C76.56,833.69 80.29,824.07 82.72,819.00C85.14,813.93 86.73,812.80 88.67,809.12C90.62,805.44 92.45,800.58 94.39,796.90C96.34,793.22 97.65,790.36 100.35,787.02C103.05,783.68 106.15,780.65 110.60,776.88C115.04,773.11 121.52,768.43 127.04,764.40C132.56,760.37 137.37,756.60 143.72,752.70C150.07,748.80 158.26,744.64 165.17,741.00C172.08,737.36 178.83,733.68 185.18,730.86C191.54,728.04 198.45,725.79 203.30,724.10C208.14,722.41 207.90,722.58 214.26,720.72C220.61,718.86 233.96,715.09 241.42,712.92C248.89,710.75 252.66,709.63 259.06,707.72C265.45,705.81 272.88,701.78 279.79,701.48C286.70,701.18 294.17,704.99 300.52,705.90C306.88,706.81 311.88,706.85 317.92,706.94C323.95,707.03 330.43,706.29 336.74,706.42C343.06,706.55 349.69,708.11 355.81,707.72C361.92,707.33 370.50,704.69 373.44,704.08" fill="none" stroke="#1A6AAE" stroke-width="1.15" stroke-dasharray="8.8 4.4" stroke-linecap="butt" stroke-linejoin="round"/>
<circle cx="50.78" cy="870.46" r="1.3" fill="#1570B5"/><circle cx="88.91" cy="808.61" r="1.3" fill="#1570B5"/><circle cx="127.04" cy="764.40" r="1.3" fill="#1570B5"/><circle cx="165.17" cy="741.00" r="1.3" fill="#1570B5"/><circle cx="203.30" cy="724.10" r="1.3" fill="#1570B5"/><circle cx="241.42" cy="712.92" r="1.3" fill="#1570B5"/><circle cx="279.55" cy="701.55" r="1.3" fill="#1570B5"/><circle cx="317.68" cy="706.93" r="1.3" fill="#1570B5"/><circle cx="355.81" cy="707.72" r="1.3" fill="#1570B5"/>
<path d="M50.78,862.94C52.73,859.65 58.49,849.55 62.46,843.18C66.43,836.81 70.20,831.74 74.61,824.72C79.02,817.70 85.22,806.56 88.91,801.06C92.60,795.56 94.27,793.82 96.77,791.70C99.28,789.58 101.10,789.53 103.92,788.32C106.74,787.11 109.84,787.11 113.69,784.42C117.55,781.73 123.27,775.84 127.04,772.20C130.81,768.56 132.76,765.61 136.33,762.58C139.91,759.55 143.68,755.82 148.49,754.00C153.29,752.18 159.84,752.66 165.17,751.66C170.49,750.66 175.85,749.45 180.42,748.02C184.99,746.59 188.76,744.64 192.57,743.08C196.38,741.52 199.68,739.27 203.30,738.66C206.91,738.05 207.90,739.18 214.26,739.44C220.61,739.70 234.75,739.70 241.42,740.22C248.10,740.74 250.12,742.00 254.29,742.56C258.46,743.12 262.19,743.73 266.44,743.60C270.69,743.47 275.70,742.60 279.79,741.78C283.88,740.96 287.53,739.18 290.99,738.66C294.44,738.14 296.03,738.14 300.52,738.66C305.01,739.18 312.08,740.65 317.92,741.78C323.76,742.91 329.24,744.34 335.55,745.42C341.87,746.50 351.32,747.80 355.81,748.28C360.29,748.76 359.54,748.84 362.48,748.28C365.42,747.72 371.61,745.46 373.44,744.90" fill="none" stroke="#D65C2A" stroke-width="1.1" stroke-linecap="butt" stroke-linejoin="round"/>
<path d="M47.58,862.94L53.98,862.94M48.52,860.68L53.05,865.20M50.78,859.74L50.78,866.14M53.05,860.68L48.52,865.20M85.71,801.06L92.11,801.06M86.65,798.80L91.17,803.32M88.91,797.86L88.91,804.26M91.17,798.80L86.65,803.32M123.84,772.20L130.24,772.20M124.78,769.94L129.30,774.46M127.04,769.00L127.04,775.40M129.30,769.94L124.78,774.46M161.97,751.66L168.37,751.66M162.90,749.40L167.43,753.92M165.17,748.46L165.17,754.86M167.43,749.40L162.90,753.92M200.10,738.66L206.50,738.66M201.03,736.40L205.56,740.92M203.30,735.46L203.30,741.86M205.56,736.40L201.03,740.92M238.22,740.22L244.62,740.22M239.16,737.96L243.69,742.48M241.42,737.02L241.42,743.42M243.69,737.96L239.16,742.48M276.35,741.81L282.75,741.81M277.29,739.55L281.81,744.08M279.55,738.61L279.55,745.01M281.81,739.55L277.29,744.08M314.48,741.74L320.88,741.74M315.42,739.47L319.94,744.00M317.68,738.54L317.68,744.94M319.94,739.47L315.42,744.00M352.61,748.28L359.01,748.28M353.54,746.02L358.07,750.54M355.81,745.08L355.81,751.48M358.07,746.02L353.54,750.54" fill="none" stroke="#D65C2A" stroke-width="1.0"/>
<path d="M51.50,871.00C52.57,871.00 55.87,871.56 57.93,871.00C60.00,870.44 61.51,869.79 63.89,867.62C66.27,865.45 69.29,861.86 72.23,858.00C75.17,854.14 78.07,849.64 81.52,844.48C84.98,839.32 89.35,832.87 92.96,827.06C96.58,821.25 100.27,814.71 103.21,809.64C106.15,804.57 108.21,800.28 110.60,796.64C112.98,793.00 115.12,790.05 117.51,787.80C119.89,785.55 122.15,784.77 124.89,783.12C127.63,781.47 130.02,779.52 133.95,777.92C137.88,776.32 143.20,776.66 148.49,773.50C153.77,770.34 160.32,762.41 165.64,758.94C170.97,755.47 175.14,754.35 180.42,752.70C185.70,751.05 192.37,750.36 197.34,749.06C202.30,747.76 205.60,746.33 210.21,744.90C214.81,743.47 220.10,742.82 224.98,740.48C229.87,738.14 234.63,734.11 239.52,730.86C244.40,727.61 249.37,723.62 254.29,720.98C259.22,718.34 264.58,716.21 269.07,715.00C273.55,713.79 276.69,713.70 281.22,713.70C285.75,713.70 289.64,715.22 296.23,715.00C302.82,714.78 312.60,713.40 320.78,712.40C328.96,711.40 338.81,710.62 345.32,709.02C351.84,707.42 355.17,704.51 359.86,702.78C364.54,701.05 371.18,699.31 373.44,698.62" fill="none" stroke="#A0A868" stroke-width="1.1" stroke-dasharray="1.1 2.3" stroke-linecap="butt" stroke-linejoin="round"/>
<rect x="389.5" y="723.5" width="154.0" height="113.0" fill="#fff" stroke="#333" stroke-width="1"/>
<path d="M389.5,741.5H543.5" stroke="#333" stroke-width="1"/>
<text x="466.50" y="736.6" font-size="10" font-weight="bold" text-anchor="middle" fill="#000">Countries in Cluster 3</text>
<path d="M392.1,751.3H426.2" stroke="#7E3C8C" stroke-width="0.9" stroke-dasharray="8.8 4.4"/>
<text x="429" y="755.50" font-size="10" fill="#111">United.States.of.America</text>
<path d="M392.1,766.5999999999999H426.2" stroke="#7AAB3C" stroke-width="0.9" stroke-dasharray="8.8 4.4"/>
<text x="429" y="770.80" font-size="10" fill="#111">Brazil</text>
<path d="M392.1,781.9H426.2" stroke="#55BDEA" stroke-width="0.9" stroke-dasharray="8.8 4.4"/>
<text x="429" y="786.10" font-size="10" fill="#111">Peru</text>
<path d="M392.1,797.1999999999999H426.2" stroke="#1570B5" stroke-width="0.9" stroke-dasharray="8.8 4.4"/>
<circle cx="409.15" cy="797.1999999999999" r="1.3" fill="#1570B5"/>
<text x="429" y="801.40" font-size="10" fill="#111">Mexico</text>
<path d="M392.1,812.5H426.2" stroke="#D65C2A" stroke-width="0.9"/>
<path d="M405.95,812.50L412.35,812.50M406.89,810.24L411.41,814.76M409.15,809.30L409.15,815.70M411.41,810.24L406.89,814.76" stroke="#D65C2A" stroke-width="1" fill="none"/>
<text x="429" y="816.70" font-size="10" fill="#111">Russian.Federation</text>
<path d="M392.1,827.8H426.2" stroke="#A0A868" stroke-width="0.9" stroke-dasharray="1.1 2.3"/>
<text x="429" y="832.00" font-size="10" fill="#111">India</text>
<text class="cap" x="305.2" y="957.8" font-size="14" letter-spacing="0.2" text-anchor="middle" fill="#111">(<tspan font-weight="bold">c</tspan>) Cluster 3.</text>
</svg>
</body></html>
